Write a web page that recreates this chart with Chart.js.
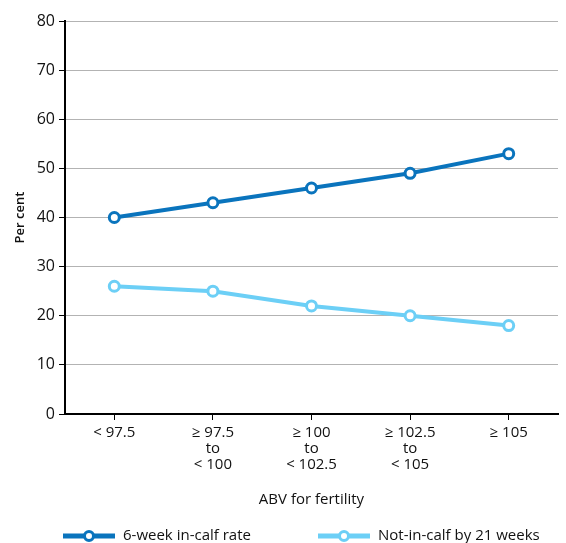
<!DOCTYPE html>
<html>
<head>
<meta charset="utf-8">
<script src="https://cdn.jsdelivr.net/npm/chart.js@4"></script>
<style>
  html, body { margin: 0; padding: 0; background: #fff; }
  #wrap { width: 566px; height: 543px; position: relative; }
</style>
</head>
<body>
<div id="wrap"><canvas id="abvChart" width="566" height="543"></canvas></div>
<script>
const categories = [
  '< 97.5',
  ['≥ 97.5', 'to', '< 100'],
  ['≥ 100', 'to', '< 102.5'],
  ['≥ 102.5', 'to', '< 105'],
  '≥ 105'
];
const inCalfRate = [40, 43, 46, 49, 53];
const notInCalf = [26, 25, 22, 20, 18];
const yTicks = [0, 10, 20, 30, 40, 50, 60, 70, 80];

const FONT = '"Open Sans", Lato, sans-serif';
const darkBlue = '#0A74BD';
const lightBlue = '#6CCFF6';

// legend drawn under the x axis: line with a hollow circle, then the label
const lineLegend = {
  id: 'lineLegend',
  afterDraw(chart) {
    const c = chart.ctx;
    const y = 536;
    const starts = [63, 318];
    chart.data.datasets.forEach((ds, i) => {
      const x = starts[i];
      c.save();
      c.strokeStyle = ds.borderColor;
      c.lineWidth = 5;
      c.beginPath();
      c.moveTo(x, y);
      c.lineTo(x + 52, y);
      c.stroke();
      c.fillStyle = '#fff';
      c.lineWidth = 3;
      c.beginPath();
      c.arc(x + 26, y, 4.5, 0, Math.PI * 2);
      c.fill();
      c.stroke();
      c.fillStyle = '#111';
      c.font = '15px ' + FONT;
      c.textBaseline = 'middle';
      c.fillText(ds.label, x + 60, y);
      c.restore();
    });
  }
};

const ctx = document.getElementById('abvChart').getContext('2d');

new Chart(ctx, {
  type: 'line',
  data: {
    labels: categories,
    datasets: [
      {
        label: '6-week in-calf rate',
        data: inCalfRate,
        borderColor: darkBlue,
        backgroundColor: '#fff',
        borderWidth: 4,
        pointRadius: 5,
        pointBorderWidth: 3,
        pointBackgroundColor: '#fff',
        pointBorderColor: darkBlue,
        tension: 0
      },
      {
        label: 'Not-in-calf by 21 weeks',
        data: notInCalf,
        borderColor: lightBlue,
        backgroundColor: '#fff',
        borderWidth: 4,
        pointRadius: 5,
        pointBorderWidth: 3,
        pointBackgroundColor: '#fff',
        pointBorderColor: lightBlue,
        tension: 0
      }
    ]
  },
  options: {
    responsive: false,
    animation: false,
    layout: { padding: { top: 21, right: 6, bottom: 30, left: 0 } },
    plugins: {
      legend: { display: false },
      tooltip: { enabled: false }
    },
    scales: {
      x: {
        offset: true,
        grid: {
          offset: false,
          drawOnChartArea: false,
          tickColor: '#000',
          tickLength: 6
        },
        border: { color: '#000', width: 2 },
        ticks: {
          color: '#111',
          font: { family: FONT, size: 15, lineHeight: 1.07 },
          padding: 5,
          maxRotation: 0,
          autoSkip: false
        },
        title: {
          display: true,
          text: 'ABV for fertility',
          color: '#111',
          font: { family: FONT, size: 15 },
          padding: { top: 12 }
        },
        afterFit(scale) { scale.height = 99; }
      },
      y: {
        min: 0,
        max: 80,
        afterBuildTicks(scale) { scale.ticks = yTicks.map(v => ({ value: v })); },
        grid: {
          color: '#b3b3b3',
          lineWidth: 1,
          tickColor: '#000',
          tickLength: 6
        },
        border: { color: '#000', width: 2 },
        ticks: {
          color: '#111',
          font: { family: FONT, size: 16 },
          padding: 4
        },
        title: {
          display: true,
          text: 'Per cent',
          color: '#111',
          font: { family: FONT, size: 13, weight: '600' },
          padding: { top: 12, bottom: 0 }
        },
        afterFit(scale) { scale.width = 65; }
      }
    }
  },
  plugins: [lineLegend]
});
</script>
</body>
</html>
